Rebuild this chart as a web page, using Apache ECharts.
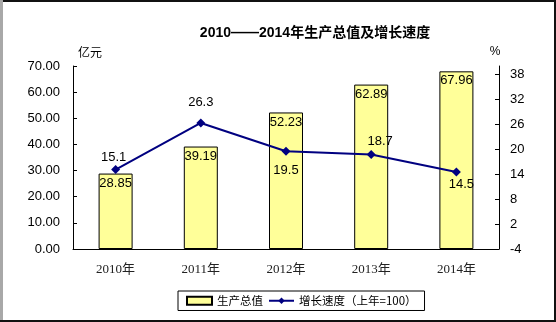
<!DOCTYPE html>
<html>
<head>
<meta charset="utf-8">
<script src="https://cdn.jsdelivr.net/npm/echarts@6/dist/echarts.min.js"></script>
<style>
  html, body { margin: 0; padding: 0; background: #fff; }
  #chart { width: 556px; height: 322px; }
</style>
</head>
<body>
<div id="chart"></div>
<script>
// Years and values
const years = ['2010年', '2011年', '2012年', '2013年', '2014年'];
const gdpValues = [28.85, 39.19, 52.23, 62.89, 67.96];        // 生产总值（亿元）
const growthValues = [15.1, 26.3, 19.5, 18.7, 14.5];          // 增长速度（%）
const leftTicks = [0, 10, 20, 30, 40, 50, 60, 70];
const rightTicks = [-4, 2, 8, 14, 20, 26, 32, 38];

// Label placement for each growth point (position, offset)
const growthLabelPlacement = [
  { position: 'top', offset: [-2, 0], distance: 1 },
  { position: 'top', offset: [0, 0], distance: 10 },
  { position: 'bottom', offset: [0, 0], distance: 8 },
  { position: 'top', offset: [9, 0], distance: 2 },
  { position: 'bottom', offset: [5, 0], distance: 1 }
];

const sans = 'Arial, "Liberation Sans", sans-serif';
const cjk = '"Liberation Serif", "Noto Sans CJK SC", serif';

const chart = echarts.init(document.getElementById('chart'), null, { renderer: 'canvas' });

chart.setOption({
  animation: false,
  backgroundColor: '#ffffff',
  title: {
    text: '2010——2014年生产总值及增长速度',
    left: 310,
    top: 21,
    textAlign: 'center',
    textStyle: { fontSize: 14, fontWeight: 'bold', color: '#000', fontFamily: '"Liberation Sans", "Noto Sans CJK SC", sans-serif' }
  },
  legend: {
    left: 178,
    top: 291,
    padding: [4, 8, 4, 8],
    itemGap: 5,
    itemWidth: 25,
    itemHeight: 8,
    borderColor: '#000',
    borderWidth: 1,
    textStyle: { fontSize: 11.5, color: '#000', fontFamily: '"Noto Sans CJK SC", sans-serif' },
    data: [
      { name: '生产总值', icon: 'rect' },
      { name: '增长速度（上年=100）' }
    ]
  },
  grid: { left: 73, right: 57, top: 66, bottom: 73, containLabel: false },
  xAxis: {
    type: 'category',
    data: years,
    axisLine: { lineStyle: { color: '#000', width: 1 } },
    axisTick: { inside: true, length: 4, alignWithLabel: false, lineStyle: { color: '#000' } },
    axisLabel: { color: '#222', fontSize: 13, fontFamily: cjk, margin: 14 },
    splitLine: { show: false }
  },
  yAxis: [
    {
      type: 'value',
      min: 0, max: 70, interval: 10,
      name: '亿元',
      nameLocation: 'end',
      nameGap: 8,
      nameTextStyle: { fontSize: 12, color: '#000', fontFamily: '"Noto Sans CJK SC", serif', align: 'left', padding: [0, 0, 0, 5] },
      axisLine: { show: true, lineStyle: { color: '#000' } },
      axisTick: { show: true, inside: true, length: 4, lineStyle: { color: '#000' }, customValues: leftTicks },
      axisLabel: { color: '#000', fontSize: 13, fontFamily: sans, margin: 13, customValues: leftTicks,
        formatter: v => v.toFixed(2) },
      splitLine: { show: false }
    },
    {
      type: 'value',
      min: -4, max: 40, interval: 6,
      name: '%',
      nameLocation: 'end',
      nameGap: 8,
      nameTextStyle: { fontSize: 12, color: '#000', fontFamily: sans, align: 'center', padding: [0, 8, 0, 0] },
      position: 'right',
      axisLine: { show: true, onZero: false, lineStyle: { color: '#000' } },
      axisTick: { show: true, inside: true, length: 4, lineStyle: { color: '#000' }, customValues: rightTicks },
      axisLabel: { color: '#000', fontSize: 13, fontFamily: sans, margin: 11, customValues: rightTicks },
      splitLine: { show: false }
    }
  ],
  series: [
    {
      name: '生产总值',
      type: 'bar',
      yAxisIndex: 0,
      data: gdpValues,
      barWidth: 34,
      itemStyle: { color: '#FFFF99', borderColor: '#000', borderWidth: 1 },
      label: {
        show: true,
        position: 'insideTop',
        distance: 3,
        color: '#000',
        fontSize: 13,
        fontFamily: sans,
        formatter: p => p.value.toFixed(2)
      },
      z: 2
    },
    {
      name: '增长速度（上年=100）',
      type: 'line',
      yAxisIndex: 1,
      data: growthValues.map((v, i) => ({
        value: v,
        label: growthLabelPlacement[i]
      })),
      symbol: 'diamond',
      symbolSize: 9,
      lineStyle: { color: '#000080', width: 2 },
      itemStyle: { color: '#000080' },
      label: {
        show: true,
        color: '#000',
        fontSize: 13,
        fontFamily: sans,
        formatter: p => p.value.toFixed(1)
      },
      z: 5
    }
  ],
  graphic: [
    // frame around the chart
    { type: 'rect', shape: { x: 0, y: 0, width: 556, height: 2 }, style: { fill: '#111' }, silent: true },
    { type: 'rect', shape: { x: 0, y: 0, width: 3, height: 322 }, style: { fill: '#a8a8a8' }, silent: true },
    { type: 'rect', shape: { x: 554, y: 0, width: 2, height: 322 }, style: { fill: '#111' }, silent: true },
    { type: 'rect', shape: { x: 0, y: 320, width: 556, height: 2 }, style: { fill: '#111' }, silent: true }
  ]
});
</script>
</body>
</html>
